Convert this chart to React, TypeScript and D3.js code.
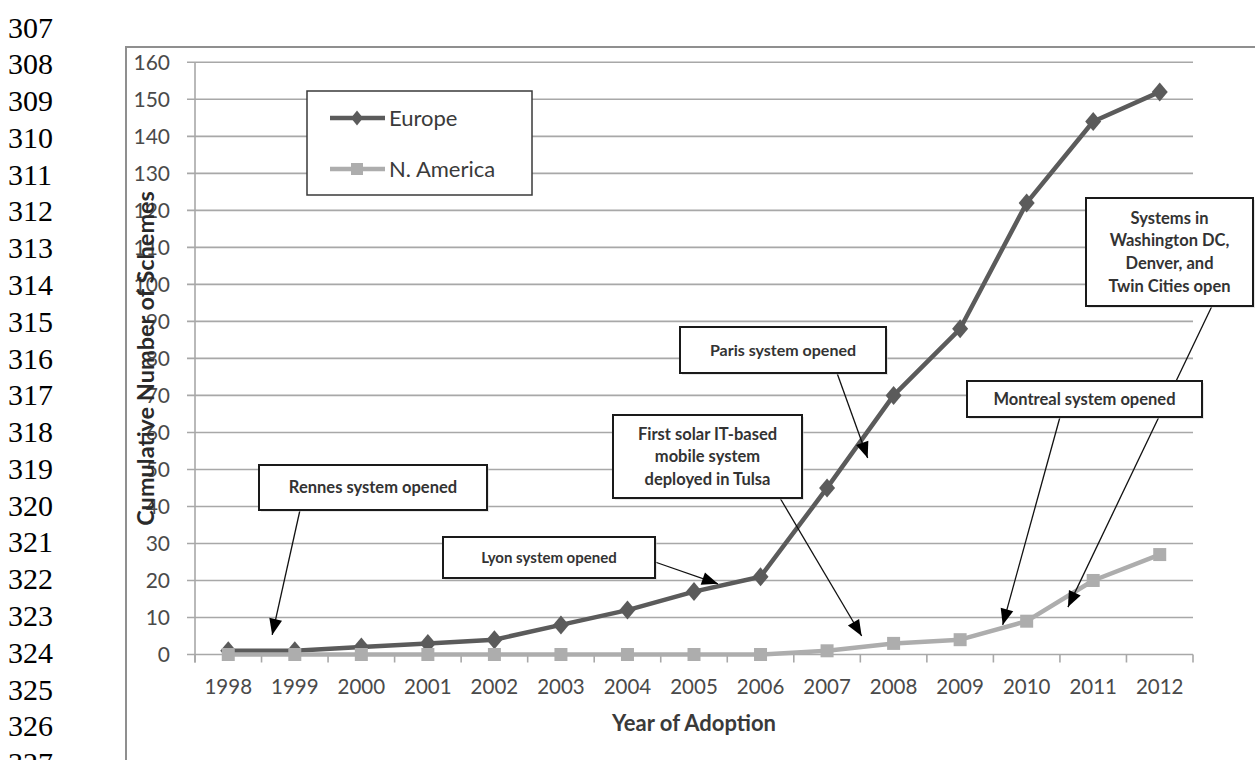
import React from "react";
import * as d3 from "d3";

// ---- data ----
const years = ["1998", "1999", "2000", "2001", "2002", "2003", "2004", "2005", "2006", "2007", "2008", "2009", "2010", "2011", "2012"];
const europe = [1, 1, 2, 3, 4, 8, 12, 17, 21, 45, 70, 88, 122, 144, 152];
const nAmerica = [0, 0, 0, 0, 0, 0, 0, 0, 0, 1, 3, 4, 9, 20, 27];
const yTickValues = [0, 10, 20, 30, 40, 50, 60, 70, 80, 90, 100, 110, 120, 130, 140, 150, 160];
const lineNumbers = [307, 308, 309, 310, 311, 312, 313, 314, 315, 316, 317, 318, 319, 320, 321, 322, 323, 324, 325, 326, 327];

// callout texts and the (year, value) each arrow points at
const calloutTexts = [
  ["Rennes system opened"],
  ["Lyon system opened"],
  ["Paris system opened"],
  ["First solar IT-based", "mobile system", "deployed in Tulsa"],
  ["Montreal system opened"],
  ["Systems in", "Washington DC,", "Denver, and", "Twin Cities open"],
];
const calloutTargetYear = [1998.66, 2005.36, 2007.61, 2007.52, 2009.64, 2010.62];
const calloutTargetValue = [5.3, 19.1, 53.1, 5.0, 8.0, 12.8];

// ---- layout ----
const W = 1255;
const H = 760;
const plot = { left: 195, right: 1193, top: 62.3, bottom: 654.5 };
const sansFont = "Lato, 'Open Sans', sans-serif";

// box rectangles and arrow origins for the callouts (pixels)
const calloutLayout = [
  { x0: 259, x1: 487, y0: 465, y1: 510, size: 16.5, sx: 300, sy: 510 },
  { x0: 443, x1: 655, y0: 537, y1: 578, size: 15, sx: 655, sy: 562 },
  { x0: 680, x1: 886, y0: 327, y1: 373, size: 16, sx: 837, sy: 373 },
  { x0: 613, x1: 802, y0: 415, y1: 498, size: 16.5, sx: 780, sy: 498 },
  { x0: 967, x1: 1202, y0: 381, y1: 417, size: 16.5, sx: 1060, sy: 417 },
  { x0: 1086, x1: 1253, y0: 198, y1: 306, size: 16.5, sx: 1212, sy: 306 },
];

const EUROPE_COLOR = "#5b5b5b";
const NA_COLOR = "#adadad";
const GRID_COLOR = "#a8a8a8";

function diamondPath(cx: number, cy: number, hw: number, hh: number) {
  return `M${cx},${cy - hh}L${cx + hw},${cy}L${cx},${cy + hh}L${cx - hw},${cy}Z`;
}

function arrowHead(sx: number, sy: number, tx: number, ty: number, len = 16, half = 6.5) {
  const a = Math.atan2(ty - sy, tx - sx);
  const bx = tx - len * Math.cos(a);
  const by = ty - len * Math.sin(a);
  const px = -Math.sin(a) * half;
  const py = Math.cos(a) * half;
  return `M${tx},${ty}L${bx + px},${by + py}L${bx - px},${by - py}Z`;
}

export default function App() {
  const x = d3.scaleBand<string>().domain(years).range([plot.left, plot.right]).paddingInner(0).paddingOuter(0);
  const bw = x.bandwidth();
  const cx = (yr: string) => (x(yr) as number) + bw / 2;
  const y = d3.scaleLinear().domain([0, 160]).range([plot.bottom, plot.top]);
  const xYear = d3
    .scaleLinear()
    .domain([+years[0], +years[years.length - 1]])
    .range([cx(years[0]), cx(years[years.length - 1])]);

  const line = d3
    .line<number>()
    .x((_, i) => cx(years[i]))
    .y((v) => y(v));

  const boundaries = years.map((yr) => x(yr) as number).concat([plot.right]);

  return (
    <svg
      width={W}
      height={H}
      viewBox={`0 0 ${W} ${H}`}
      style={{ position: "absolute", left: 0, top: 0, background: "#fff" }}
    >
      <rect x={0} y={0} width={W} height={H} fill="#fff" />

      {/* manuscript line numbers */}
      {lineNumbers.map((n, i) => (
        <text
          key={n}
          x={8}
          y={27 + i * 36.78 + 10.5}
          fontFamily="'Liberation Serif', 'Times New Roman', serif"
          fontSize={30}
          fill="#000"
        >
          {n}
        </text>
      ))}

      {/* chart frame */}
      <rect x={126} y={47} width={W} height={H} fill="none" stroke="#8f8f8f" strokeWidth={2} />

      {/* horizontal gridlines */}
      {yTickValues.map((v) => (
        <line
          key={v}
          x1={plot.left - 8}
          x2={plot.right}
          y1={y(v)}
          y2={y(v)}
          stroke={GRID_COLOR}
          strokeWidth={1.6}
        />
      ))}
      {/* y axis */}
      <line x1={plot.left} x2={plot.left} y1={plot.top} y2={plot.bottom + 8} stroke={GRID_COLOR} strokeWidth={1.6} />
      {/* x tick marks */}
      {boundaries.map((b, i) => (
        <line key={i} x1={b} x2={b} y1={plot.bottom} y2={plot.bottom + 8} stroke={GRID_COLOR} strokeWidth={1.6} />
      ))}

      {/* y tick labels */}
      {yTickValues.map((v) => (
        <text
          key={v}
          x={170}
          y={y(v)}
          dy="0.35em"
          textAnchor="end"
          fontFamily={sansFont}
          fontSize={21}
          fill="#4a4a4a"
        >
          {v}
        </text>
      ))}

      {/* x tick labels */}
      {years.map((yr) => (
        <text
          key={yr}
          x={cx(yr)}
          y={687}
          dy="0.35em"
          textAnchor="middle"
          fontFamily={sansFont}
          fontSize={20.5}
          fill="#4a4a4a"
        >
          {yr}
        </text>
      ))}

      {/* axis titles */}
      <text
        x={(plot.left + plot.right) / 2}
        y={731}
        textAnchor="middle"
        fontFamily={sansFont}
        fontWeight="bold"
        fontSize={22}
        fill="#3a3a3a"
      >
        Year of Adoption
      </text>
      <text
        transform={`translate(146,${(plot.top + plot.bottom) / 2}) rotate(-90)`}
        dy="0.35em"
        textAnchor="middle"
        fontFamily={sansFont}
        fontWeight="bold"
        fontSize={23.5}
        fill="#2a2a2a"
      >
        Cumulative Number of Schemes
      </text>

      {/* Europe series */}
      <path d={line(europe) as string} fill="none" stroke={EUROPE_COLOR} strokeWidth={4.5} strokeLinejoin="round" />
      {europe.map((v, i) => (
        <path key={i} d={diamondPath(cx(years[i]), y(v), 8, 9.5)} fill={EUROPE_COLOR} />
      ))}

      {/* N. America series */}
      <path d={line(nAmerica) as string} fill="none" stroke={NA_COLOR} strokeWidth={4.5} strokeLinejoin="round" />
      {nAmerica.map((v, i) => (
        <rect key={i} x={cx(years[i]) - 6.5} y={y(v) - 6.5} width={13} height={13} fill={NA_COLOR} />
      ))}

      {/* legend */}
      <g>
        <rect x={307} y={91} width={225} height={104} fill="#fff" stroke="#3a3a3a" strokeWidth={1.5} />
        <line x1={330} x2={385} y1={118} y2={118} stroke={EUROPE_COLOR} strokeWidth={4.5} />
        <path d={diamondPath(357, 118, 6, 7.5)} fill={EUROPE_COLOR} />
        <text x={389} y={118} dy="0.35em" fontFamily={sansFont} fontSize={22} fill="#3a3a3a">
          Europe
        </text>
        <line x1={330} x2={385} y1={169} y2={169} stroke={NA_COLOR} strokeWidth={4.5} />
        <rect x={351} y={163} width={12} height={12} fill={NA_COLOR} />
        <text x={389} y={169} dy="0.35em" fontFamily={sansFont} fontSize={22} fill="#3a3a3a">
          N. America
        </text>
      </g>

      {/* callout arrows */}
      {calloutLayout.map((c, i) => {
        const tx = xYear(calloutTargetYear[i]);
        const ty = y(calloutTargetValue[i]);
        return (
          <g key={i}>
            <line x1={c.sx} y1={c.sy} x2={tx} y2={ty} stroke="#111" strokeWidth={1.3} />
            <path d={arrowHead(c.sx, c.sy, tx, ty)} fill="#000" />
          </g>
        );
      })}

      {/* callout boxes */}
      {calloutLayout.map((c, i) => {
        const lines = calloutTexts[i];
        const lh = c.size * 1.38;
        const midY = (c.y0 + c.y1) / 2;
        const firstY = midY - ((lines.length - 1) * lh) / 2;
        return (
          <g key={i}>
            <rect x={c.x0 + 2} y={c.y0 + 2} width={c.x1 - c.x0} height={c.y1 - c.y0} fill="#d0d0d0" opacity={0.5} />
            <rect x={c.x0} y={c.y0} width={c.x1 - c.x0} height={c.y1 - c.y0} fill="#fff" stroke="#1a1a1a" strokeWidth={2} />
            {lines.map((t, j) => (
              <text
                key={j}
                x={(c.x0 + c.x1) / 2}
                y={firstY + j * lh}
                dy="0.35em"
                textAnchor="middle"
                fontFamily={sansFont}
                fontWeight="bold"
                fontSize={c.size}
                fill="#333"
              >
                {t}
              </text>
            ))}
          </g>
        );
      })}
    </svg>
  );
}
